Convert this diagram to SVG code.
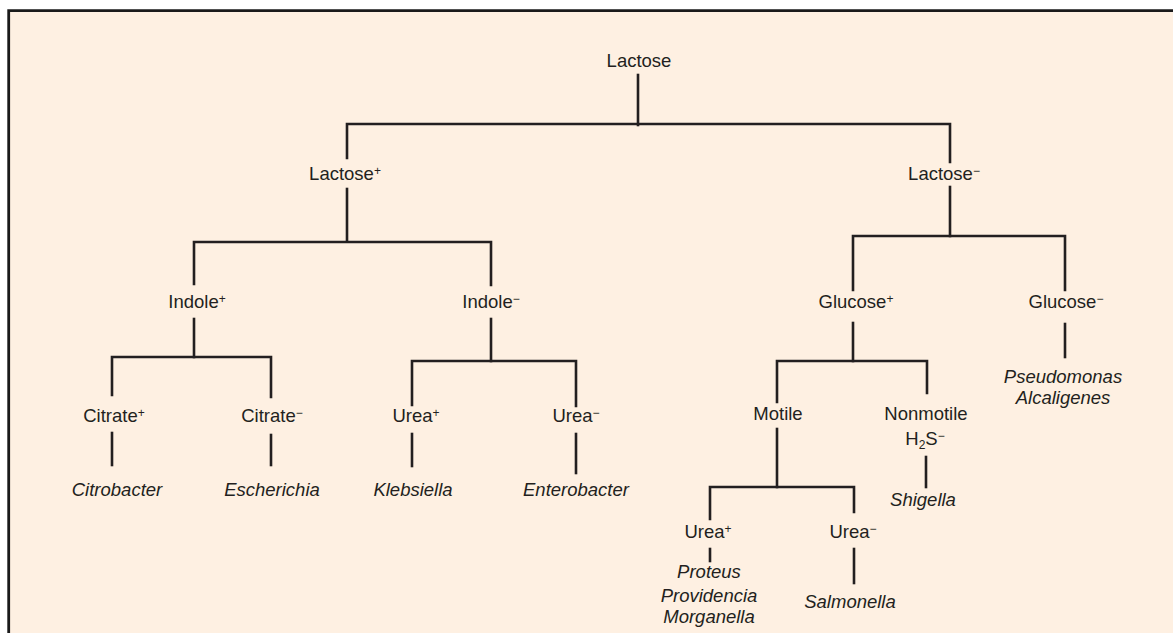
<svg xmlns="http://www.w3.org/2000/svg" width="1173" height="633" viewBox="0 0 1173 633">
<style>
.t{font-family:"Liberation Sans",Arial,sans-serif;font-size:18.5px;fill:#231f20;text-anchor:middle}
.i{font-style:italic}
.sup{font-size:12px}
.ln{stroke:#231f20;stroke-width:2.6;fill:none;stroke-linecap:square}
</style>
<rect x="0" y="0" width="1173" height="633" fill="#ffffff"/>
<rect x="8.7" y="10.7" width="1170" height="630" fill="#fef0e2"/>
<path d="M8.7,640 V10.7 H1180" stroke="#1a1a1a" stroke-width="2.8" fill="none"/>
<g id="connectors" class="ln">
<path d="M638,75 V125"/>
<path d="M347,158 V124 H950 V162"/>
<path d="M347,189 V241"/>
<path d="M194,284 V242 H491 V285"/>
<path d="M950,187 V236"/>
<path d="M853,290 V236 H1065 V290"/>
<path d="M194,319 V357"/>
<path d="M112,395 V357 H271 V397"/>
<path d="M491,319 V361"/>
<path d="M412,405 V361 H576 V406"/>
<path d="M853,323 V361"/>
<path d="M777,402 V361 H927 V393"/>
<path d="M1065,324 V357"/>
<path d="M112,433 V465"/>
<path d="M271,435 V465"/>
<path d="M412,434 V466"/>
<path d="M576,434 V473"/>
<path d="M777,429 V487"/>
<path d="M710,519 V487 H854 V512"/>
<path d="M926,457 V487"/>
<path d="M710,549 V561"/>
<path d="M854,549 V583"/>
</g>
<g id="lactose"><text class="t" x="639" y="67">Lactose</text></g>
<g id="lactose-pos"><text class="t" x="345" y="180">Lactose<tspan class="sup" dy="-5">+</tspan></text></g>
<g id="lactose-neg"><text class="t" x="944" y="179.5">Lactose<tspan class="sup" dy="-5">−</tspan></text></g>
<g id="indole-pos"><text class="t" x="197" y="308">Indole<tspan class="sup" dy="-5">+</tspan></text></g>
<g id="indole-neg"><text class="t" x="491" y="308">Indole<tspan class="sup" dy="-5">−</tspan></text></g>
<g id="glucose-pos"><text class="t" x="856" y="308">Glucose<tspan class="sup" dy="-5">+</tspan></text></g>
<g id="glucose-neg"><text class="t" x="1066" y="308">Glucose<tspan class="sup" dy="-5">−</tspan></text></g>
<g id="pseudomonas"><text class="t i" x="1063" y="383">Pseudomonas</text><text class="t i" x="1063" y="404">Alcaligenes</text></g>
<g id="citrate-pos"><text class="t" x="114" y="422">Citrate<tspan class="sup" dy="-5">+</tspan></text></g>
<g id="citrate-neg"><text class="t" x="272" y="422">Citrate<tspan class="sup" dy="-5">−</tspan></text></g>
<g id="urea-pos-1"><text class="t" x="416" y="422">Urea<tspan class="sup" dy="-5">+</tspan></text></g>
<g id="urea-neg-1"><text class="t" x="576" y="422">Urea<tspan class="sup" dy="-5">−</tspan></text></g>
<g id="motile"><text class="t" x="778" y="420">Motile</text></g>
<g id="nonmotile"><text class="t" x="926" y="420">Nonmotile</text><text class="t" x="925" y="445">H<tspan class="sup" dy="4">2</tspan><tspan dy="-4">S</tspan><tspan class="sup" dy="-5">−</tspan></text></g>
<g id="citrobacter"><text class="t i" x="117" y="496">Citrobacter</text></g>
<g id="escherichia"><text class="t i" x="272" y="496">Escherichia</text></g>
<g id="klebsiella"><text class="t i" x="413" y="496">Klebsiella</text></g>
<g id="enterobacter"><text class="t i" x="576" y="496">Enterobacter</text></g>
<g id="shigella"><text class="t i" x="923" y="506">Shigella</text></g>
<g id="urea-pos-2"><text class="t" x="708" y="538">Urea<tspan class="sup" dy="-5">+</tspan></text></g>
<g id="urea-neg-2"><text class="t" x="853" y="538">Urea<tspan class="sup" dy="-5">−</tspan></text></g>
<g id="proteus"><text class="t i" x="709" y="578">Proteus</text><text class="t i" x="709" y="602">Providencia</text><text class="t i" x="709" y="623">Morganella</text></g>
<g id="salmonella"><text class="t i" x="850" y="608">Salmonella</text></g>
</svg>
